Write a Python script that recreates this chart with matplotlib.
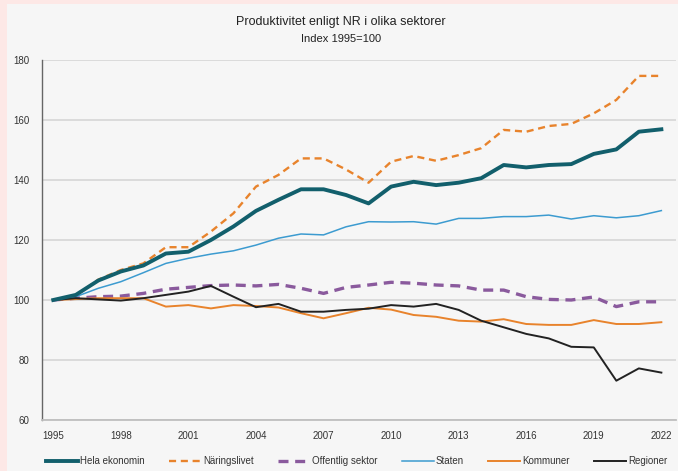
import matplotlib
matplotlib.use("Agg")
import matplotlib.pyplot as plt
from matplotlib.patches import Rectangle

years = list(range(1995, 2023))
hela = [100, 101.7, 106.5, 109.5, 111.5, 115.5, 116.1, 120, 124.5, 129.7, 133.4, 136.9, 136.9, 135.0,
        132.2, 137.8, 139.4, 138.3, 139.1, 140.6, 145.0, 144.2, 145.0, 145.3, 148.7, 150.2, 156.1, 156.9]
naring = [100, 101.5, 106.8, 110.0, 112.2, 117.6, 117.6, 122.8, 128.9, 137.8, 141.7, 147.2, 147.2, 143.5,
          139.1, 146.1, 148.0, 146.4, 148.3, 150.6, 156.7, 156.1, 158.0, 158.7, 162.2, 166.7, 174.7, 174.7]
offentlig = [100, 100.6, 101.1, 101.3, 102.2, 103.6, 104.2, 104.8, 105.0, 104.7, 105.2, 103.9, 102.2, 104.2,
             105.0, 105.9, 105.6, 105.0, 104.7, 103.3, 103.3, 101.1, 100.2, 100.0, 101.0, 97.8, 99.4, 99.4]
staten = [100, 101.1, 103.9, 106.1, 109.1, 112.2, 113.9, 115.3, 116.4, 118.3, 120.6, 122.0, 121.7, 124.4,
          126.1, 126.0, 126.1, 125.3, 127.2, 127.2, 127.8, 127.8, 128.3, 127.0, 128.1, 127.4, 128.1, 129.8]
kommuner = [100, 100.3, 100.6, 100.6, 100.6, 97.8, 98.3, 97.2, 98.3, 98.0, 97.5, 95.6, 93.9, 95.6,
            97.4, 96.8, 95.0, 94.4, 93.1, 92.8, 93.6, 92.0, 91.7, 91.7, 93.3, 92.0, 92.0, 92.6]
regioner = [100, 100.6, 100.2, 99.8, 100.6, 101.7, 102.8, 104.7, 101.1, 97.6, 98.7, 96.1, 96.1, 96.7,
            97.1, 98.3, 97.8, 98.7, 96.7, 93.1, 90.9, 88.7, 87.2, 84.4, 84.2, 73.1, 77.2, 75.8]

labels = ["Hela ekonomin", "Näringslivet", "Offentlig sektor", "Staten", "Kommuner", "Regioner"]
xticks = list(range(1995, 2023, 3))
yticks = [60, 80, 100, 120, 140, 160, 180]

plt.rcParams['font.family'] = ['Liberation Sans', 'DejaVu Sans']

fig = plt.figure(figsize=(6.78, 4.71), dpi=100)
fig.patch.set_facecolor('#fde8e6')
fig.add_artist(Rectangle((7/678, 0), 1, 1 - 4/471, transform=fig.transFigure,
                         facecolor='#f6f6f6', edgecolor='none', zorder=0))

ax = fig.add_axes([42/678, 1 - 420/471, (676-42)/678, (420-60)/471])
ax.set_facecolor('#f6f6f6')

ax.plot(years, hela, color='#125f6c', lw=2.8, label=labels[0], zorder=5)
ax.plot(years, naring, color='#e8832c', lw=1.7, ls=(0, (3, 2)), label=labels[1], zorder=4)
ax.plot(years, offentlig, color='#8a5a9d', lw=2.4, ls=(0, (3, 2)), label=labels[2], zorder=4)
ax.plot(years, staten, color='#3c9bd0', lw=1.1, label=labels[3], zorder=4)
ax.plot(years, kommuner, color='#e8832c', lw=1.4, label=labels[4], zorder=4)
ax.plot(years, regioner, color='#222222', lw=1.4, label=labels[5], zorder=4)

ax.set_xlim(1994.5, 2022.65)
ax.set_ylim(60, 180)
ax.set_yticks(yticks)
ax.set_xticks(xticks)
ax.tick_params(axis='both', labelsize=7, length=0, colors='#333333')
ax.tick_params(axis='x', pad=8)
ax.tick_params(axis='y', pad=9)
ax.grid(axis='y', color='#d9d9d9', lw=1.3)
ax.set_axisbelow(True)
for s in ['top', 'right']:
    ax.spines[s].set_visible(False)
ax.spines['left'].set_color('#666666')
ax.spines['left'].set_linewidth(1.0)
ax.spines['bottom'].set_color('#bfbfbf')
ax.spines['bottom'].set_linewidth(1.3)

fig.text(0.503, 1 - 22/471, "Produktivitet enligt NR i olika sektorer", ha='center', va='center',
         fontsize=9, color='#222222')
fig.text(0.503, 1 - 39/471, "Index 1995=100", ha='center', va='center', fontsize=8, color='#222222')

leg = fig.legend(loc='center', bbox_to_anchor=(0.526, 1 - 461/471), ncol=6, frameon=False,
                 fontsize=7, handlelength=3.3, handletextpad=0.2, columnspacing=2.5)
for t in leg.get_texts():
    t.set_color('#333333')

fig.savefig('out.png', dpi=100, facecolor=fig.get_facecolor())
